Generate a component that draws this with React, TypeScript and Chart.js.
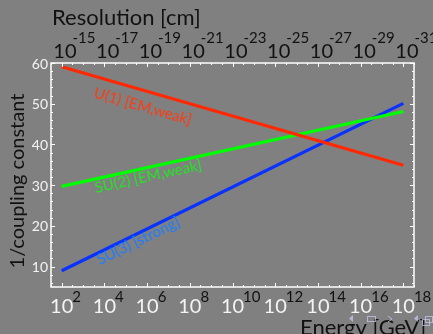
import React, { useEffect, useRef } from "react";
import { Chart, registerables } from "chart.js";

Chart.register(...registerables);

// ---- data ----
const energyExponents = [2, 4, 6, 8, 10, 12, 14, 16, 18]; // log10(E / GeV)
const resolutionExponents = [-15, -17, -19, -21, -23, -25, -27, -29, -31]; // log10(res / cm)
const yTickValues = [10, 20, 30, 40, 50, 60];
const lineLogE = [2, 18];
const u1Values = [59.1, 34.9];
const su2Values = [29.7, 48.1];
const su3Values = [9.0, 50.1];
const seriesNames = ["U(1) [EM,weak]", "SU(2) [EM,weak]", "SU(3) [strong]"];
const labelLogE = [3.47, 3.61, 3.8];
const labelValue = [51.6, 28.1, 10.4];

const FONT = "Lato, 'Noto Sans', sans-serif";
const lineColors = ["#ff2800", "#00ff00", "#0a32ff"];
const textColors = ["#ff3a10", "#22e622", "#1e7cff"];

const overlayPlugin = {
  id: "overlay",
  beforeDraw(chart: any) {
    const ctx = chart.ctx;
    ctx.save();
    ctx.fillStyle = "#808080";
    ctx.fillRect(0, 0, chart.width, chart.height);
    ctx.restore();
  },
  afterDatasetsDraw(chart: any) {
    const ctx = chart.ctx;
    const { left, right, top, bottom } = chart.chartArea;
    const xs = chart.scales.x;
    const xs2 = chart.scales.x2;
    const ys = chart.scales.y;
    ctx.save();

    // frame
    ctx.strokeStyle = "#ffffff";
    ctx.lineWidth = 1.5;
    ctx.strokeRect(left, top, right - left, bottom - top);

    // inner ticks x
    ctx.lineWidth = 1;
    for (let v = 1.5; v <= 18.5; v += 0.5) {
      const px = Math.round(xs.getPixelForValue(v)) + 0.5;
      const len = Number.isInteger(v) && v % 2 === 0 ? 4 : 2;
      ctx.beginPath();
      ctx.moveTo(px, bottom);
      ctx.lineTo(px, bottom - len);
      ctx.moveTo(px, top);
      ctx.lineTo(px, top + len);
      ctx.stroke();
    }
    // inner ticks y
    for (let v = 6; v <= 60; v += 2) {
      const py = Math.round(ys.getPixelForValue(v)) + 0.5;
      const len = v % 10 === 0 ? 4 : 2;
      ctx.beginPath();
      ctx.moveTo(left, py);
      ctx.lineTo(left + len, py);
      ctx.moveTo(right, py);
      ctx.lineTo(right - len, py);
      ctx.stroke();
    }

    // y tick labels
    ctx.fillStyle = "#f4f4f4";
    ctx.font = `14px ${FONT}`;
    ctx.textAlign = "right";
    ctx.textBaseline = "middle";
    yTickValues.forEach((v) => {
      ctx.fillText(String(v), left - 3, ys.getPixelForValue(v) + 1);
    });

    // power labels
    const drawPow = (
      cx: number,
      baseY: number,
      exp: number,
      baseColor: string,
      expColor: string,
      expDy: number,
      expShift: number
    ) => {
      ctx.textAlign = "left";
      ctx.textBaseline = "alphabetic";
      ctx.font = `20px ${FONT}`;
      const w = ctx.measureText("10").width;
      ctx.fillStyle = baseColor;
      ctx.fillText("10", cx - w / 2, baseY);
      ctx.font = `15px ${FONT}`;
      ctx.fillStyle = expColor;
      ctx.fillText(String(exp), cx + w / 2 + expShift, baseY - expDy);
    };
    energyExponents.forEach((e) => {
      drawPow(xs.getPixelForValue(e), 313, e, "#f4f4f4", "#111111", 11, -1);
    });
    resolutionExponents.forEach((r) => {
      drawPow(xs2.getPixelForValue(-r), 58, r, "#111111", "#111111", 15, -4);
    });

    // axis titles
    ctx.fillStyle = "#111111";
    ctx.font = `22px ${FONT}`;
    ctx.textAlign = "left";
    ctx.textBaseline = "alphabetic";
    ctx.fillText("Resolution [cm]", 52, 25);
    ctx.fillText("Energy [GeV]", 300, 335);

    ctx.save();
    ctx.translate(24, (top + bottom) / 2 + 6);
    ctx.rotate(-Math.PI / 2);
    ctx.textAlign = "center";
    ctx.font = `20px ${FONT}`;
    ctx.fillText("1/coupling constant", 0, 0);
    ctx.restore();

    // series labels along lines
    const series = [u1Values, su2Values, su3Values];
    series.forEach((vals, i) => {
      const x0 = xs.getPixelForValue(lineLogE[0]);
      const x1 = xs.getPixelForValue(lineLogE[1]);
      const y0 = ys.getPixelForValue(vals[0]);
      const y1 = ys.getPixelForValue(vals[1]);
      const ang = Math.atan2(y1 - y0, x1 - x0);
      ctx.save();
      ctx.translate(xs.getPixelForValue(labelLogE[i]), ys.getPixelForValue(labelValue[i]));
      ctx.rotate(ang);
      ctx.font = `15px ${FONT}`;
      ctx.fillStyle = textColors[i];
      ctx.textAlign = "left";
      ctx.textBaseline = "alphabetic";
      ctx.fillText(seriesNames[i], 0, 0);
      ctx.restore();
    });

    // small viewer navigation widget (bottom right, decorative)
    ctx.globalAlpha = 0.75;
    ctx.fillStyle = "#c8c8f0";
    ctx.strokeStyle = "#c8c8f0";
    ctx.lineWidth = 1;
    ctx.beginPath();
    ctx.moveTo(353, 315);
    ctx.lineTo(349, 318.5);
    ctx.lineTo(353, 322);
    ctx.closePath();
    ctx.fill();
    ctx.strokeRect(367.5, 316.5, 8, 5);
    ctx.beginPath();
    ctx.moveTo(388, 316);
    ctx.lineTo(392, 319);
    ctx.lineTo(388, 322);
    ctx.stroke();
    ctx.beginPath();
    ctx.moveTo(418, 315);
    ctx.lineTo(414, 318.5);
    ctx.lineTo(418, 322);
    ctx.closePath();
    ctx.fill();
    ctx.strokeRect(422.5, 319.5, 7, 6);
    ctx.strokeRect(425.5, 316.5, 7, 6);
    ctx.globalAlpha = 1;

    ctx.restore();
  },
};

export default function App() {
  const canvasRef = useRef<HTMLCanvasElement | null>(null);

  useEffect(() => {
    const canvas = canvasRef.current;
    if (!canvas) return;
    const mk = (vals: number[]) => lineLogE.map((x, i) => ({ x, y: vals[i] }));
    const chart = new Chart(canvas, {
      type: "line",
      data: {
        datasets: [u1Values, su2Values, su3Values].map((vals, i) => ({
          label: seriesNames[i],
          data: mk(vals),
          borderColor: lineColors[i],
          backgroundColor: lineColors[i],
          borderWidth: 3.2,
          pointRadius: 0,
          tension: 0,
          fill: false,
          xAxisID: "x",
          yAxisID: "y",
        })),
      },
      options: {
        animation: false,
        responsive: false,
        devicePixelRatio: 1,
        layout: { padding: { left: 51, top: 63, right: 19, bottom: 47 } },
        plugins: {
          legend: { display: false },
          tooltip: { enabled: false },
          title: { display: false },
        },
        scales: {
          x: { type: "linear", min: 1.5, max: 18.5, display: false },
          x2: { type: "linear", min: 14.35, max: 31.33, display: false, position: "top" },
          y: { type: "linear", min: 5, max: 60, display: false },
        },
      },
      plugins: [overlayPlugin],
    });
    return () => chart.destroy();
  }, []);

  return (
    <div
      style={{
        position: "fixed",
        left: 0,
        top: 0,
        width: 433,
        height: 334,
        background: "#808080",
        overflow: "hidden",
      }}
    >
      <canvas ref={canvasRef} width={433} height={334} style={{ display: "block" }} />
    </div>
  );
}
